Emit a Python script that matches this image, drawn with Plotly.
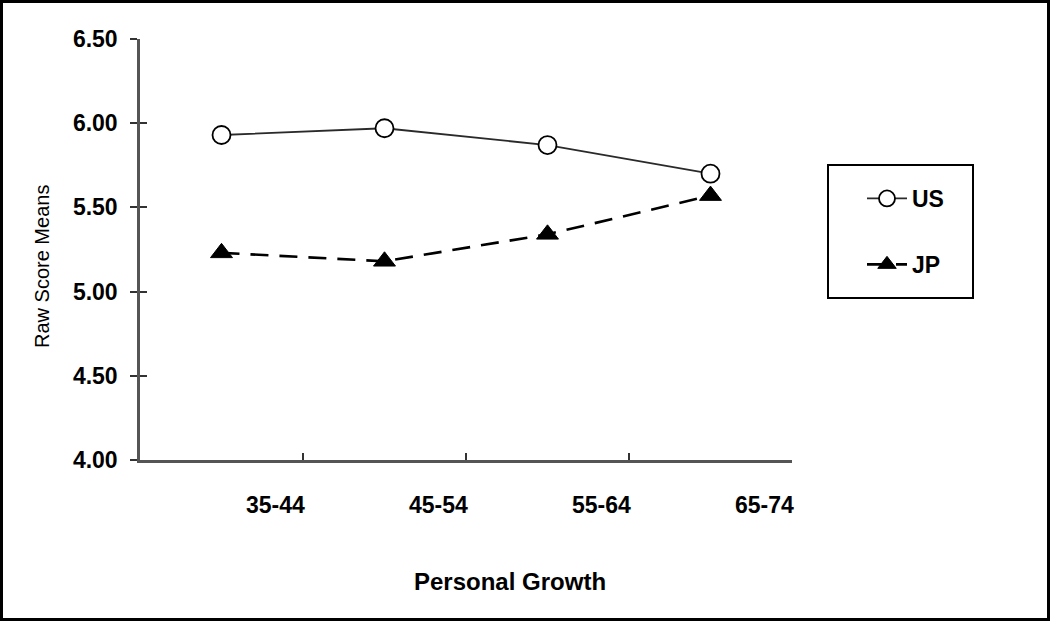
import plotly.graph_objects as go

categories = ["35-44", "45-54", "55-64", "65-74"]
us_values = [5.93, 5.97, 5.87, 5.70]
jp_values = [5.23, 5.18, 5.34, 5.57]
y_ticks = [4.0, 4.5, 5.0, 5.5, 6.0, 6.5]
y_tick_text = ["4.00", "4.50", "5.00", "5.50", "6.00", "6.50"]

W, H = 1050, 621
L, R, T, B = 140, 258, 39, 161
PW, PH = W - L - R, H - T - B

xs = list(range(len(categories)))
label_offset = 0.33

FONT = "Liberation Sans"


def px(xp):
    return (xp - L) / PW


def py(yp):
    return (H - B - yp) / PH


fig = go.Figure()
fig.add_trace(go.Scatter(
    x=xs, y=us_values, name="US", mode="lines+markers",
    line=dict(color="#2a2a2a", width=1.8),
    marker=dict(symbol="circle", size=18, color="white", line=dict(color="black", width=1.8)),
    legendgroup="us",
))
fig.add_trace(go.Scatter(
    x=xs, y=jp_values, name="JP", mode="lines+markers",
    line=dict(color="black", width=2.6, dash="18px,11px"),
    marker=dict(symbol="triangle-up", size=19, color="black", line=dict(color="black", width=1)),
    legendgroup="jp",
))
# invisible trace for tick-mark axis
fig.add_trace(go.Scatter(x=[-0.5, len(categories) - 0.5], y=[4, 4], xaxis="x2", yaxis="y2",
                         mode="markers", marker=dict(opacity=0), showlegend=False, hoverinfo="skip"))

xr = [-0.5, len(categories) - 0.5]
fig.update_layout(
    width=W, height=H,
    margin=dict(l=L, r=R, t=T, b=B),
    paper_bgcolor="white", plot_bgcolor="white",
    font=dict(family=FONT, color="black"),
    xaxis=dict(
        range=xr, tickvals=[x + label_offset for x in xs], ticktext=categories,
        ticks="", showline=True, linecolor="#555555", linewidth=2.5,
        showgrid=False, zeroline=False,
        tickfont=dict(size=23, family=FONT, weight="bold"),
        ticklabelstandoff=23,
    ),
    xaxis2=dict(
        range=xr, overlaying="x", anchor="y", tickvals=[x - 0.5 for x in range(len(categories) + 1)],
        ticks="inside", ticklen=7, tickwidth=2, tickcolor="#333333",
        showticklabels=False, showline=False, showgrid=False, zeroline=False,
    ),
    yaxis=dict(
        range=[4.0, 6.5], tickvals=y_ticks, ticktext=y_tick_text,
        ticks="outside", ticklen=7, tickwidth=2, tickcolor="#333333",
        showline=True, linecolor="#555555", linewidth=2.5,
        showgrid=False, zeroline=False,
        tickfont=dict(size=23, family=FONT, weight="bold"),
        ticklabelstandoff=8,
    ),
    yaxis2=dict(
        range=[4.0, 6.5], overlaying="y", anchor="x", tickvals=y_ticks,
        ticks="inside", ticklen=7, tickwidth=2, tickcolor="#333333",
        showticklabels=False, showline=False, showgrid=False, zeroline=False,
    ),
    legend=dict(
        x=px(862), y=py(177), xanchor="left", yanchor="top",
        borderwidth=0, bgcolor="rgba(0,0,0,0)",
        font=dict(size=23, family=FONT, weight="bold"),
        tracegroupgap=33, itemwidth=40,
    ),
    showlegend=True,
)

# legend frame
fig.add_shape(type="rect", xref="paper", yref="paper",
              x0=px(828), x1=px(973), y0=py(298), y1=py(165),
              line=dict(color="black", width=2))

fig.add_annotation(text="Personal Growth", xref="paper", yref="paper",
                   x=px(510), y=py(581), showarrow=False,
                   xanchor="center", yanchor="middle",
                   font=dict(size=24, family=FONT, weight="bold"))
fig.add_annotation(text="Raw Score Means", xref="paper", yref="paper",
                   x=px(42), y=py(267), showarrow=False, textangle=-90,
                   xanchor="center", yanchor="middle",
                   font=dict(size=20, family=FONT))

fig.add_shape(type="rect", xref="paper", yref="paper",
              x0=px(1.5), x1=px(W - 1.5), y0=py(H - 1.5), y1=py(1.5),
              line=dict(color="black", width=3))

fig.write_html("out.html", config={"displayModeBar": False},
               post_script="document.body.style.margin='0';")
